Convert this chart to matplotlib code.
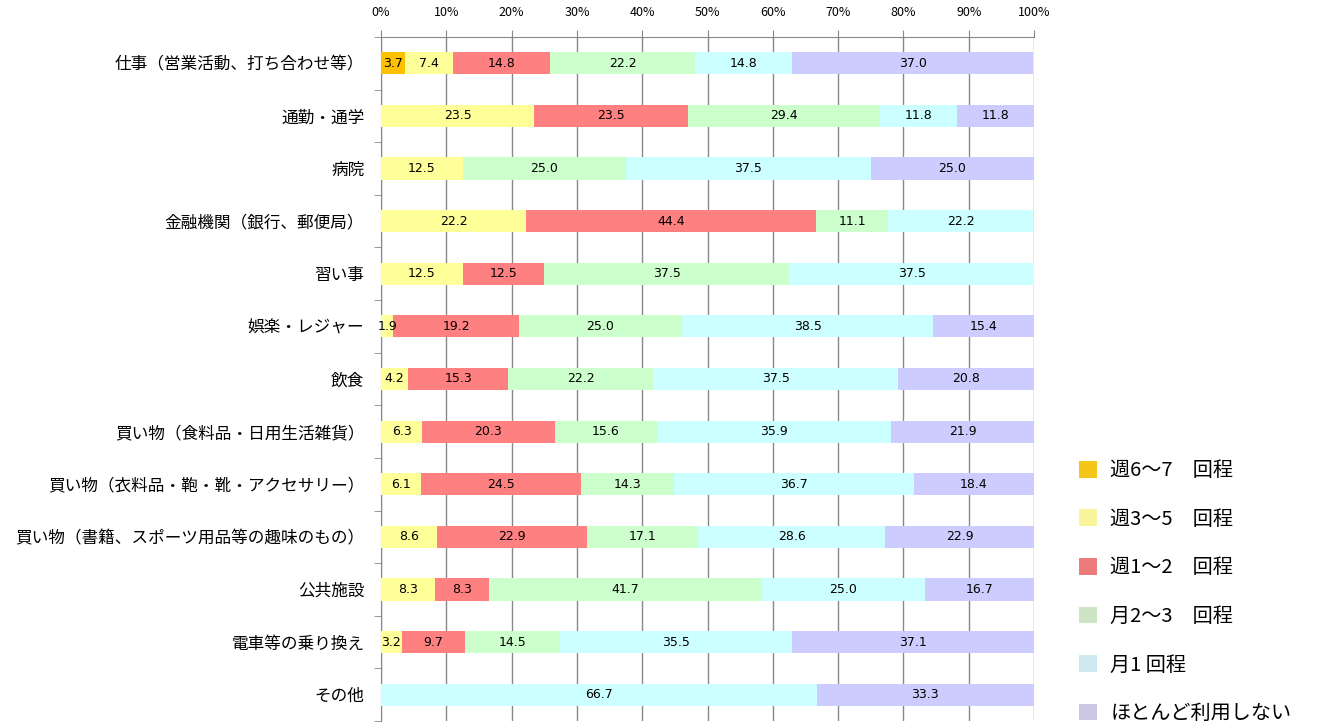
import numpy as np
import matplotlib.pyplot as plt
from matplotlib.patches import Patch
from matplotlib.ticker import MultipleLocator, FixedLocator, PercentFormatter

plt.rcParams['font.family'] = ['Noto Sans CJK JP', 'DejaVu Sans']

categories = ['仕事（営業活動、打ち合わせ等）', '通勤・通学', '病院',
              '金融機関（銀行、郵便局）', '習い事', '娯楽・レジャー', '飲食',
              '買い物（食料品・日用生活雑貨）', '買い物（衣料品・鞄・靴・アクセサリー）',
              '買い物（書籍、スポーツ用品等の趣味のもの）', '公共施設',
              '電車等の乗り換え', 'その他']

series_names = ['週6～7　回程', '週3～5　回程', '週1～2　回程',
                '月2～3　回程', '月1 回程', 'ほとんど利用しない']

week_6_7 = [3.7, 0, 0, 0, 0, 0, 0, 0, 0, 0, 0, 0, 0]
week_3_5 = [7.4, 23.5, 12.5, 22.2, 12.5, 1.9, 4.2, 6.3, 6.1, 8.6, 8.3, 3.2, 0]
week_1_2 = [14.8, 23.5, 0, 44.4, 12.5, 19.2, 15.3, 20.3, 24.5, 22.9, 8.3, 9.7, 0]
month_2_3 = [22.2, 29.4, 25.0, 11.1, 37.5, 25.0, 22.2, 15.6, 14.3, 17.1, 41.7, 14.5, 0]
month_1 = [14.8, 11.8, 37.5, 22.2, 37.5, 38.5, 37.5, 35.9, 36.7, 28.6, 25.0, 35.5, 66.7]
rarely = [37.0, 11.8, 25.0, 0, 0, 15.4, 20.8, 21.9, 18.4, 22.9, 16.7, 37.1, 33.3]

colors = ['#FFC000', '#FFFF99', '#FF8080', '#CCFFCC', '#CCFFFF', '#CCCCFF']
legend_colors = ['#F5C518', '#F7F49C', '#EE7B7B', '#CDE5C4', '#CDE8EE', '#CAC8E4']

fig = plt.figure(figsize=(13.18, 7.27), dpi=100)
ax = fig.add_axes([381 / 1318, 1 - 721 / 727, 653 / 1318, 684 / 727])

data = [week_6_7, week_3_5, week_1_2, month_2_3, month_1, rarely]
y = np.arange(len(categories))
left = np.zeros(len(categories))
for vals, c in zip(data, colors):
    vals = np.array(vals)
    ax.barh(y, vals, left=left, height=0.42, color=c, zorder=3)
    for yi, l, v in zip(y, left, vals):
        if v > 0:
            ax.text(l + v / 2, yi, f'{v:.1f}', ha='center', va='center',
                    fontsize=9, zorder=4, family=['DejaVu Sans'])
    left += vals

ax.set_xlim(0, 100)
ax.set_ylim(len(categories) - 0.5, -0.5)
ax.xaxis.set_major_locator(MultipleLocator(10))
ax.xaxis.set_major_formatter(PercentFormatter(decimals=0))
ax.xaxis.tick_top()
ax.tick_params(axis='x', length=5, color='#888888', labelsize=9, pad=8)
ax.grid(axis='x', color='#888888', linewidth=1, zorder=0)

ax.set_yticks(y)
ax.set_yticklabels(categories, fontsize=12)
ax.tick_params(axis='y', which='major', length=0, pad=12)
ax.yaxis.set_minor_locator(FixedLocator(np.arange(-0.5, len(categories), 1)))
ax.tick_params(axis='y', which='minor', length=5, color='#888888')

for side in ['top', 'left']:
    ax.spines[side].set_color('#888888')
ax.spines['right'].set_visible(False)
ax.spines['bottom'].set_visible(False)

handles = [Patch(facecolor=c, edgecolor='none') for c in legend_colors]
fig.legend(handles, series_names, loc='upper left',
           bbox_to_anchor=(1065 / 1318, 1 - 446 / 727), frameon=False,
           fontsize=14.5, handlelength=0.9, handleheight=0.9,
           labelspacing=1.37, handletextpad=0.65, borderaxespad=0.3)

fig.savefig('out.png', dpi=100)
